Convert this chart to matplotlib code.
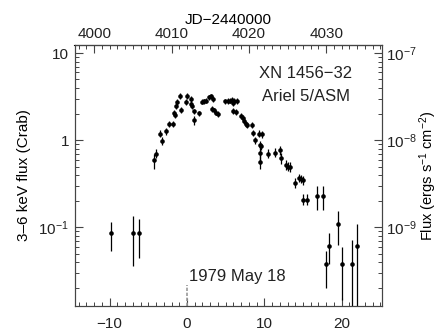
import matplotlib
matplotlib.use("Agg")
import matplotlib.pyplot as plt
import numpy as np
from matplotlib.ticker import FixedLocator, MultipleLocator, FuncFormatter, LogLocator, NullFormatter

plt.rcParams['font.family'] = ['Liberation Sans', 'DejaVu Sans']
plt.rcParams['mathtext.fontset'] = 'custom'
plt.rcParams['mathtext.rm'] = 'Liberation Sans'
plt.rcParams['mathtext.it'] = 'Liberation Sans:italic'
plt.rcParams['text.color'] = '#222222'
plt.rcParams['xtick.labelcolor'] = '#222222'
plt.rcParams['ytick.labelcolor'] = '#222222'

# ---- data (days from 1979 May 18, 3-6 keV flux in Crab) ----
day = [-9.8, -6.93, -6.15,
       -4.22, -4.0, -3.53, -3.23, -2.76, -2.33, -1.86, -1.64, -1.55, -1.38, -1.25, -0.95, -0.82,
       0.0, -0.09, 0.47, 0.56, 0.62, 0.94, 0.9, 1.55, 1.97, 2.2, 2.45, 2.79, 3.1, 3.3,
       3.22, 3.43, 3.69, 3.95, 4.94, 5.24, 5.59, 5.88, 6.14, 5.94, 6.45, 5.97, 6.32,
       7.0, 7.3, 7.43, 7.65, 7.82, 8.45, 8.5, 8.75, 9.29, 9.72, 9.4, 9.55, 9.46, 9.46,
       10.45, 11.4, 12.0, 12.2, 12.8, 13.0, 13.3, 13.9, 14.5, 14.8, 15.05, 14.96, 15.56,
       16.8, 17.6, 17.93, 18.3, 19.57, 20.08, 21.33, 21.97]
flux = [0.086, 0.086, 0.086,
        0.59, 0.69, 1.19, 0.98, 1.27, 1.55, 1.54, 2.06, 1.95, 2.46, 2.76, 3.23, 2.21,
        3.23, 2.76, 2.96, 2.64, 2.45, 2.15, 1.7, 2.03, 2.78, 2.8, 2.85, 3.1, 3.2, 3.0,
        2.3, 2.2, 2.08, 1.99, 2.8, 2.82, 2.85, 2.88, 2.83, 2.7, 2.83, 2.17, 2.1,
        1.9, 1.8, 1.67, 1.55, 1.5, 1.5, 1.22, 1.0, 1.19, 1.17, 0.88, 0.85, 0.71, 0.57,
        0.70, 0.72, 0.77, 0.62, 0.52, 0.50, 0.49, 0.32, 0.37, 0.36, 0.35, 0.205, 0.205,
        0.227, 0.227, 0.0376, 0.061, 0.108, 0.0376, 0.0376, 0.061]
flux_lo = [0.054, 0.036, 0.045,
           0.47, 0.62, 1.08, 0.88, 1.16, 1.42, 1.42, 1.9, 1.8, 2.27, 2.55, 3.0, 2.05,
           3.0, 2.55, 2.75, 2.45, 2.27, 2.0, 1.5, 1.88, 2.58, 2.6, 2.65, 2.88, 2.97, 2.78,
           2.13, 2.04, 1.93, 1.84, 2.6, 2.6, 2.65, 2.67, 2.62, 2.5, 2.62, 2.0, 1.94,
           1.76, 1.66, 1.54, 1.42, 1.38, 1.38, 1.12, 0.91, 1.08, 1.06, 0.79, 0.77, 0.6, 0.47,
           0.62, 0.64, 0.68, 0.54, 0.46, 0.44, 0.43, 0.28, 0.33, 0.32, 0.31, 0.18, 0.18,
           0.157, 0.157, 0.0204, 0.0376, 0.062, 0.0145, 0.0125, 0.0125]
flux_hi = [0.115, 0.134, 0.126,
           0.70, 0.80, 1.3, 1.08, 1.38, 1.68, 1.66, 2.22, 2.1, 2.65, 2.97, 3.48, 2.38,
           3.48, 2.97, 3.18, 2.84, 2.64, 2.31, 1.9, 2.18, 2.99, 3.0, 3.06, 3.33, 3.44, 3.22,
           2.48, 2.37, 2.24, 2.14, 3.0, 3.04, 3.06, 3.1, 3.05, 2.9, 3.05, 2.34, 2.26,
           2.04, 1.94, 1.8, 1.67, 1.62, 1.62, 1.32, 1.1, 1.3, 1.28, 0.97, 0.94, 0.84, 0.68,
           0.79, 0.81, 0.87, 0.71, 0.59, 0.57, 0.56, 0.37, 0.41, 0.4, 0.39, 0.24, 0.24,
           0.30, 0.30, 0.054, 0.086, 0.154, 0.059, 0.072, 0.110]

bottom_ticks = [-10, 0, 10, 20]
left_tick_labels = {10.0: '10', 1.0: '1', 0.1: '$10^{-1}$'}
right_tick_labels = {1e-7: '$10^{-7}$', 1e-8: '$10^{-8}$', 1e-9: '$10^{-9}$'}
jd_offset = 4012.0
crab_to_erg = 1.0e-8

TICK_FS = 11
LABEL_FS = 11
ANN_FS = 12
AXC = '#444444'

fig = plt.figure(figsize=(4.41, 3.34), dpi=100)
ax = fig.add_axes([74.5/441, 1-306/334, (381.5-74.5)/441, (306-45)/334])

day_a = np.array(day); flux_a = np.array(flux)
yerr = [flux_a - np.array(flux_lo), np.array(flux_hi) - flux_a]
ax.errorbar(day_a, flux_a, yerr=yerr, fmt='o', color='black', ms=3.3,
            elinewidth=0.9, capsize=0, mew=0)

ax.set_yscale('log')
ax.set_xlim(-14.55, 25.15)
ax.set_ylim(0.01253, 12.4)

ax.xaxis.set_major_locator(FixedLocator(bottom_ticks))
ax.xaxis.set_minor_locator(MultipleLocator(1))
ax.yaxis.set_major_locator(FixedLocator(list(left_tick_labels.keys())))
ax.yaxis.set_major_formatter(FuncFormatter(lambda v, p: left_tick_labels.get(round(v, 6), '')))
ax.yaxis.set_minor_locator(LogLocator(base=10, subs=np.arange(2, 10)))
ax.yaxis.set_minor_formatter(NullFormatter())

ax.tick_params(which='both', direction='in', color=AXC, labelsize=TICK_FS)
ax.tick_params(which='major', length=6, width=0.8)
ax.tick_params(which='minor', length=3, width=0.7)
ax.tick_params(axis='x', pad=8)
ax.tick_params(axis='y', pad=4)
for s in ax.spines.values():
    s.set_linewidth(0.8); s.set_color(AXC)

ax.set_ylabel('3\u20136 keV flux (Crab)', fontsize=LABEL_FS, labelpad=5)

# top axis (JD)
top = ax.secondary_xaxis('top', functions=(lambda x: x + jd_offset, lambda x: x - jd_offset))
top.xaxis.set_major_locator(MultipleLocator(10))
top.xaxis.set_minor_locator(MultipleLocator(1))
top.tick_params(which='both', direction='in', color=AXC, labelsize=TICK_FS, pad=3)
top.tick_params(which='major', length=6, width=0.8)
top.tick_params(which='minor', length=3, width=0.7)
top.set_xlabel('JD\u22122440000', fontsize=LABEL_FS, labelpad=2)

# right axis (erg flux)
ax2 = ax.twinx()
ax2.set_yscale('log')
lo, hi = ax.get_ylim()
ax2.set_ylim(lo * crab_to_erg, hi * crab_to_erg)
ax2.yaxis.set_major_locator(FixedLocator(list(right_tick_labels.keys())))
ax2.yaxis.set_major_formatter(FuncFormatter(lambda v, p: right_tick_labels.get(float('%.0e' % v), '')))
ax2.yaxis.set_minor_locator(LogLocator(base=10, subs=np.arange(2, 10)))
ax2.yaxis.set_minor_formatter(NullFormatter())
ax2.tick_params(which='both', direction='in', color=AXC, labelsize=TICK_FS, pad=3)
ax2.tick_params(which='major', length=6, width=0.8)
ax2.tick_params(which='minor', length=3, width=0.7)
for s in ax2.spines.values():
    s.set_linewidth(0.8); s.set_color(AXC)
ax2.set_ylabel('Flux (ergs s$^{-1}$ cm$^{-2}$)', fontsize=10.5, labelpad=1)

# annotations
ax.axvline(0, ymin=0, ymax=0.08, color='#999999', lw=1.2, ls=(0, (2, 1)))
ax.text(0.2, 0.0273, '1979 May 18', fontsize=ANN_FS, va='center', ha='left')
ax.text(0.754, 0.889, 'XN 1456\u221232', transform=ax.transAxes, fontsize=ANN_FS, ha='center', va='center')
ax.text(0.754, 0.802, 'Ariel 5/ASM', transform=ax.transAxes, fontsize=ANN_FS, ha='center', va='center')

fig.savefig('out.png', dpi=100)
